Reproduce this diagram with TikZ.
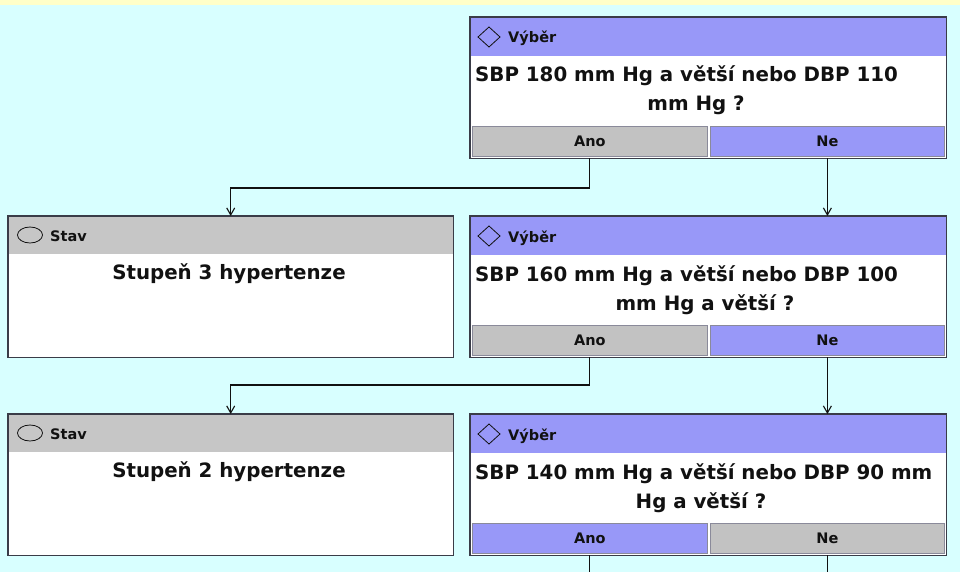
\documentclass[tikz,border=0pt]{standalone}
\usepackage{fontspec}
\setmainfont{DejaVu Sans}
\usetikzlibrary{arrows.meta,calc}
\definecolor{bgc}{HTML}{D8FFFF}
\definecolor{strip}{HTML}{FFFFC8}
\definecolor{hblue}{HTML}{9898F8}
\definecolor{hgray}{HTML}{C6C6C6}
\definecolor{frame}{HTML}{3A3C48}
\definecolor{btngray}{HTML}{C2C2C2}
\definecolor{btnedge}{HTML}{8A8A9A}
\definecolor{txt}{HTML}{111111}
\tikzset{
  x=1pt, y=-1pt,
  outerbox/.style={anchor=north west, fill=white, inner sep=0, minimum width=#1, minimum height=141pt},
  boxframe/.style={draw=frame, line width=1.4pt},
  hdrfill/.style={anchor=north west, inner sep=0, minimum height=39pt, minimum width=#1},
  hdrtext/.style={font=\bfseries\fontsize{14.5}{16}\selectfont, text=txt, anchor=base west, inner sep=0},
  bodytext/.style={font=\bfseries\fontsize{19.8}{22}\selectfont, text=txt, anchor=base, inner sep=0},
  btn/.style={anchor=north west, inner sep=0, minimum height=30pt, draw=btnedge, line width=0.8pt,
    font=\bfseries\fontsize{14.5}{16}\selectfont, text=txt},
  icon/.style={draw=txt, line width=0.8pt},
  conn/.style={draw=txt, line width=1.1pt},
  arr/.style={conn, -{Straight Barb[length=7pt,width=8pt]}}
}
\newcommand{\decbox}[7]{%
  \node[outerbox=476pt] (#1) at (470,#2) {};
  \node[hdrfill=476pt, fill=hblue] (#1-h) at (#1.north west) {};
  \draw[icon] (478,#2+20) -- ++(11,-10) -- ++(11,10) -- ++(-11,10) -- cycle;
  \node[hdrtext] (#1-t) at (508,#2+26) {Výběr};
  \node[bodytext, anchor=base west] (#1-l1) at (475,#2+65) {#3};
  \node[bodytext] (#1-l2) at (#7,#2+94) {#4};
  \node[btn, fill=#5, minimum width=235pt] (#1-ano) at (472,#2+109) {Ano};
  \node[btn, fill=#6, minimum width=234pt] (#1-ne) at (710,#2+109) {Ne};
  \draw[boxframe] (#1.north west) rectangle (#1.south east);
}
\newcommand{\stavbox}[3]{%
  \node[outerbox=445pt] (#1) at (8,#2) {};
  \node[hdrfill=445pt, minimum height=38pt, fill=hgray] (#1-h) at (#1.north west) {};
  \draw[icon] (30,#2+19) ellipse [x radius=12.5, y radius=8];
  \node[hdrtext] (#1-t) at (50,#2+25) {Stav};
  \node[bodytext] (#1-l1) at (229,#2+63) {#3};
  \draw[boxframe] (#1.north west) rectangle (#1.south east);
}
\begin{document}
\begin{tikzpicture}
\useasboundingbox (0,0) rectangle (960,572);
\fill[bgc] (0,0) rectangle (960,572);
\fill[strip] (0,0) rectangle (960,5);

\decbox{d1}{17}{SBP 180 mm Hg a větší nebo DBP 110}{mm Hg ?}{btngray}{hblue}{696}
\decbox{d2}{216}{SBP 160 mm Hg a větší nebo DBP 100}{mm Hg a větší ?}{btngray}{hblue}{705}
\decbox{d3}{414}{SBP 140 mm Hg a větší nebo DBP 90 mm}{Hg a větší ?}{hblue}{btngray}{701}
\stavbox{s1}{216}{Stupeň 3 hypertenze}
\stavbox{s2}{414}{Stupeň 2 hypertenze}

\coordinate (e1) at (0,188);
\coordinate (e2) at (0,385);
\coordinate (bot) at (0,572);

\draw[arr] (d1-ano |- d1.south) |- (e1 -| s1.north) -- (s1.north);
\draw[arr] (d1-ne |- d1.south) -- (d1-ne |- d2.north);
\draw[arr] (d2-ano |- d2.south) |- (e2 -| s2.north) -- (s2.north);
\draw[arr] (d2-ne |- d2.south) -- (d2-ne |- d3.north);
\draw[conn] (d3-ano |- d3.south) -- (d3-ano |- bot);
\draw[conn] (d3-ne |- d3.south) -- (d3-ne |- bot);
\end{tikzpicture}
\end{document}
